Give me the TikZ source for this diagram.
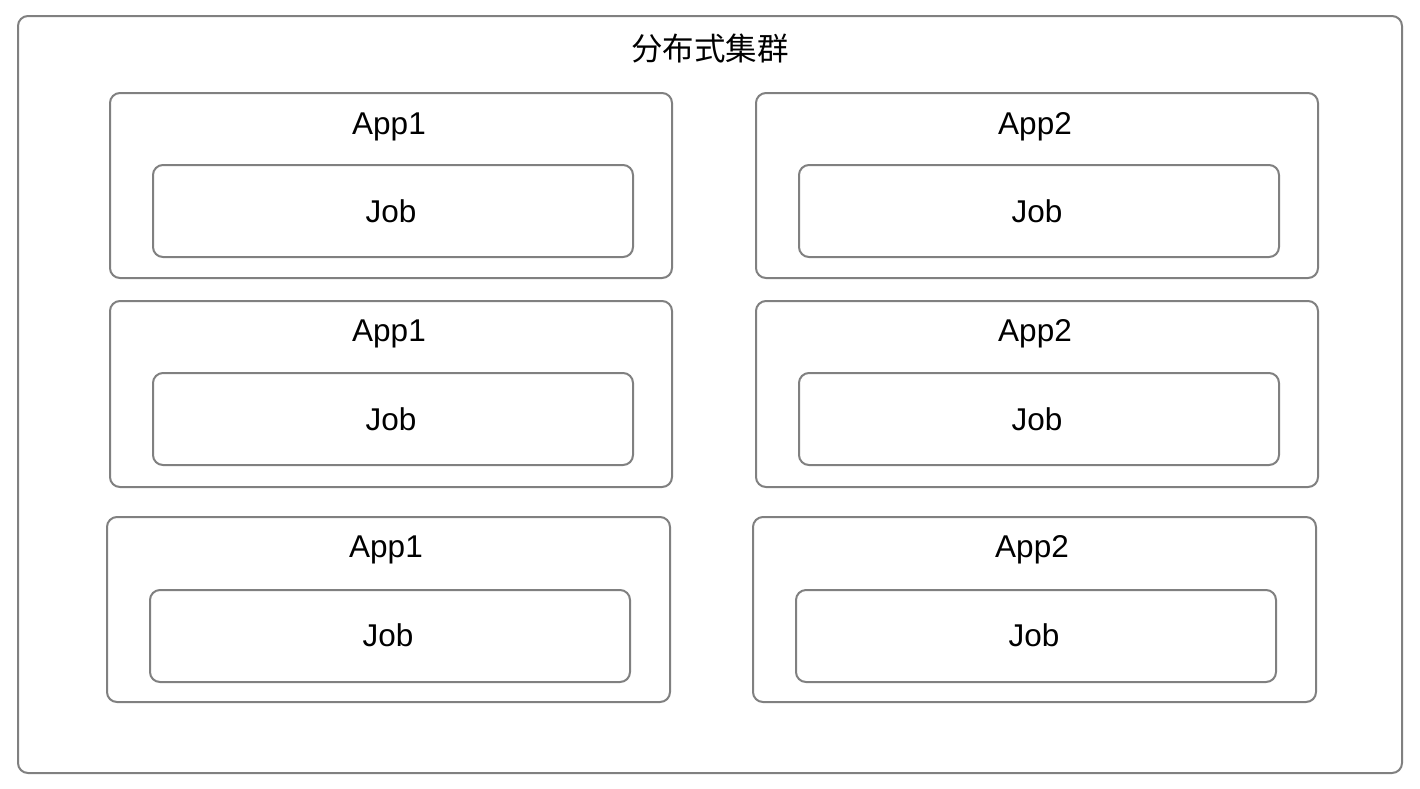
\documentclass[tikz,border=0pt]{standalone}
\usepackage{fontspec}
\setmainfont{Liberation Sans}
\newfontfamily\cjk{Noto Sans CJK SC}
\definecolor{boxgray}{HTML}{808080}
\tikzset{
  frame/.style={draw=boxgray, line width=2pt, rounded corners=10pt, fill=white},
  lbl/.style={font=\fontsize{31.5}{36}\selectfont, text=black, inner sep=0pt, anchor=base},
}
\begin{document}
\begin{tikzpicture}[x=1pt,y=-1pt]
\useasboundingbox (0,0) rectangle (1420,788);
\fill[white] (0,0) rectangle (1420,788);
% outer cluster
\draw[frame] (18,16) rectangle (1402,773);
\node[lbl, anchor=center] (title) at (710,49) {\cjk 分布式集群};
% Row 1
\draw[frame] (110,93) rectangle (672,278);
\node[lbl] (a1) at (389,134) {App1};
\draw[frame] (153,165) rectangle (633,257);
\node[lbl] (j1) at (391,222.5) {Job};
\draw[frame] (756,93) rectangle (1318,278);
\node[lbl] (a2) at (1035,134) {App2};
\draw[frame] (799,165) rectangle (1279,257);
\node[lbl] (j2) at (1037,222.5) {Job};
% Row 2
\draw[frame] (110,301) rectangle (672,487);
\node[lbl] (a3) at (389,341.5) {App1};
\draw[frame] (153,373) rectangle (633,465);
\node[lbl] (j3) at (391,430.5) {Job};
\draw[frame] (756,301) rectangle (1318,487);
\node[lbl] (a4) at (1035,341.5) {App2};
\draw[frame] (799,373) rectangle (1279,465);
\node[lbl] (j4) at (1037,430.5) {Job};
% Row 3
\draw[frame] (107,517) rectangle (670,702);
\node[lbl] (a5) at (386,557.5) {App1};
\draw[frame] (150,590) rectangle (630,682);
\node[lbl] (j5) at (388,646.5) {Job};
\draw[frame] (753,517) rectangle (1316,702);
\node[lbl] (a6) at (1032,557.5) {App2};
\draw[frame] (796,590) rectangle (1276,682);
\node[lbl] (j6) at (1034,646.5) {Job};
\end{tikzpicture}
\end{document}
